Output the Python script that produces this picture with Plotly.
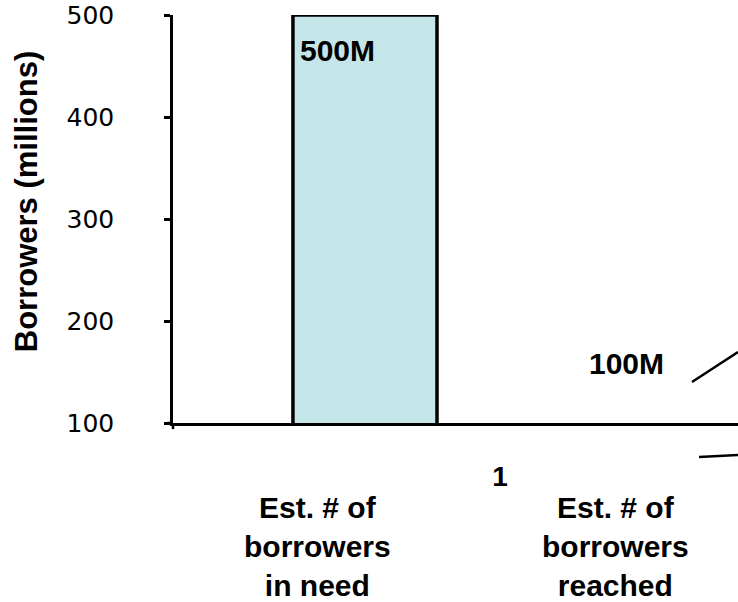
import plotly.graph_objects as go

# ---- data ----
bar_x = [0]
bar_values = [500]
bar_text = ["500M"]
reached_text = "100M"
y_ticks = [100, 200, 300, 400, 500]
x_tick_vals = [1]
x_tick_text = ["1"]
category_labels = ["Est. # of<br>borrowers<br>in need", "Est. # of<br>borrowers<br>reached"]
y_title = "Borrowers (millions)"

BOLD = "Liberation Sans"
fig = go.Figure()
fig.add_trace(go.Bar(
    x=bar_x, y=bar_values, width=1.067,
    marker=dict(color="#C5E6E8", line=dict(color="black", width=3.5)),
    showlegend=False, hoverinfo="skip",
))

fig.update_layout(
    width=738, height=602,
    margin=dict(l=173, r=0, t=15, b=179),
    paper_bgcolor="white", plot_bgcolor="white",
    xaxis=dict(range=[-1.422, 2.763], showgrid=False, zeroline=False,
               showline=True, linecolor="black", linewidth=2.5,
               tickvals=x_tick_vals, ticktext=x_tick_text, ticks="",
               ticklabelstandoff=27,
               tickfont=dict(family=BOLD, size=28, color="black", weight="bold")),
    yaxis=dict(range=[100, 500], showgrid=False, zeroline=False,
               showline=True, linecolor="black", linewidth=2.5,
               tickvals=y_ticks, ticks="outside", ticklen=6, tickwidth=2.5,
               tickcolor="black", ticklabelstandoff=45,
               tickfont=dict(family="DejaVu Sans", size=25, color="black")),
    font=dict(family=BOLD, color="black"),
)

annots = []
annots.append(dict(text="<b>" + bar_text[0] + "</b>", xref="paper", yref="paper",
                   x=0.2212, y=0.912, xanchor="left", yanchor="middle",
                   showarrow=False, font=dict(family=BOLD, size=30, color="black")))
annots.append(dict(text="<b>" + reached_text + "</b>", xref="paper", yref="paper",
                   x=0.8035, y=0.147, xanchor="center", yanchor="middle",
                   showarrow=False, font=dict(family=BOLD, size=30, color="black")))
for lab, xp in zip(category_labels, [0.2566, 0.784]):
    annots.append(dict(text="<b>" + lab + "</b>", xref="paper", yref="paper",
                       x=xp, y=-0.302, xanchor="center", yanchor="middle",
                       showarrow=False, align="center",
                       font=dict(family=BOLD, size=30, color="black")))
annots.append(dict(text="<b>" + y_title + "</b>", xref="paper", yref="paper",
                   x=-0.258, y=0.5417, xanchor="center", yanchor="middle",
                   textangle=-90, showarrow=False,
                   font=dict(family=BOLD, size=31, color="black")))
fig.update_layout(annotations=annots)

shapes = [
    dict(type="line", xref="paper", yref="paper", x0=0.9186, y0=0.1005, x1=1.0, y1=0.174,
         line=dict(color="black", width=2.5)),
    dict(type="line", xref="paper", yref="paper", x0=0.931, y0=-0.0833, x1=1.0, y1=-0.0784,
         line=dict(color="black", width=2.5)),
    dict(type="line", xref="paper", yref="paper", x0=0, y0=0, x1=0, y1=-0.015,
         line=dict(color="black", width=2.5)),
    dict(type="line", xref="paper", yref="paper", x0=-0.01, y0=0, x1=0, y1=0,
         line=dict(color="black", width=2.5)),
]
fig.update_layout(shapes=shapes)

fig.write_html("out.html")
